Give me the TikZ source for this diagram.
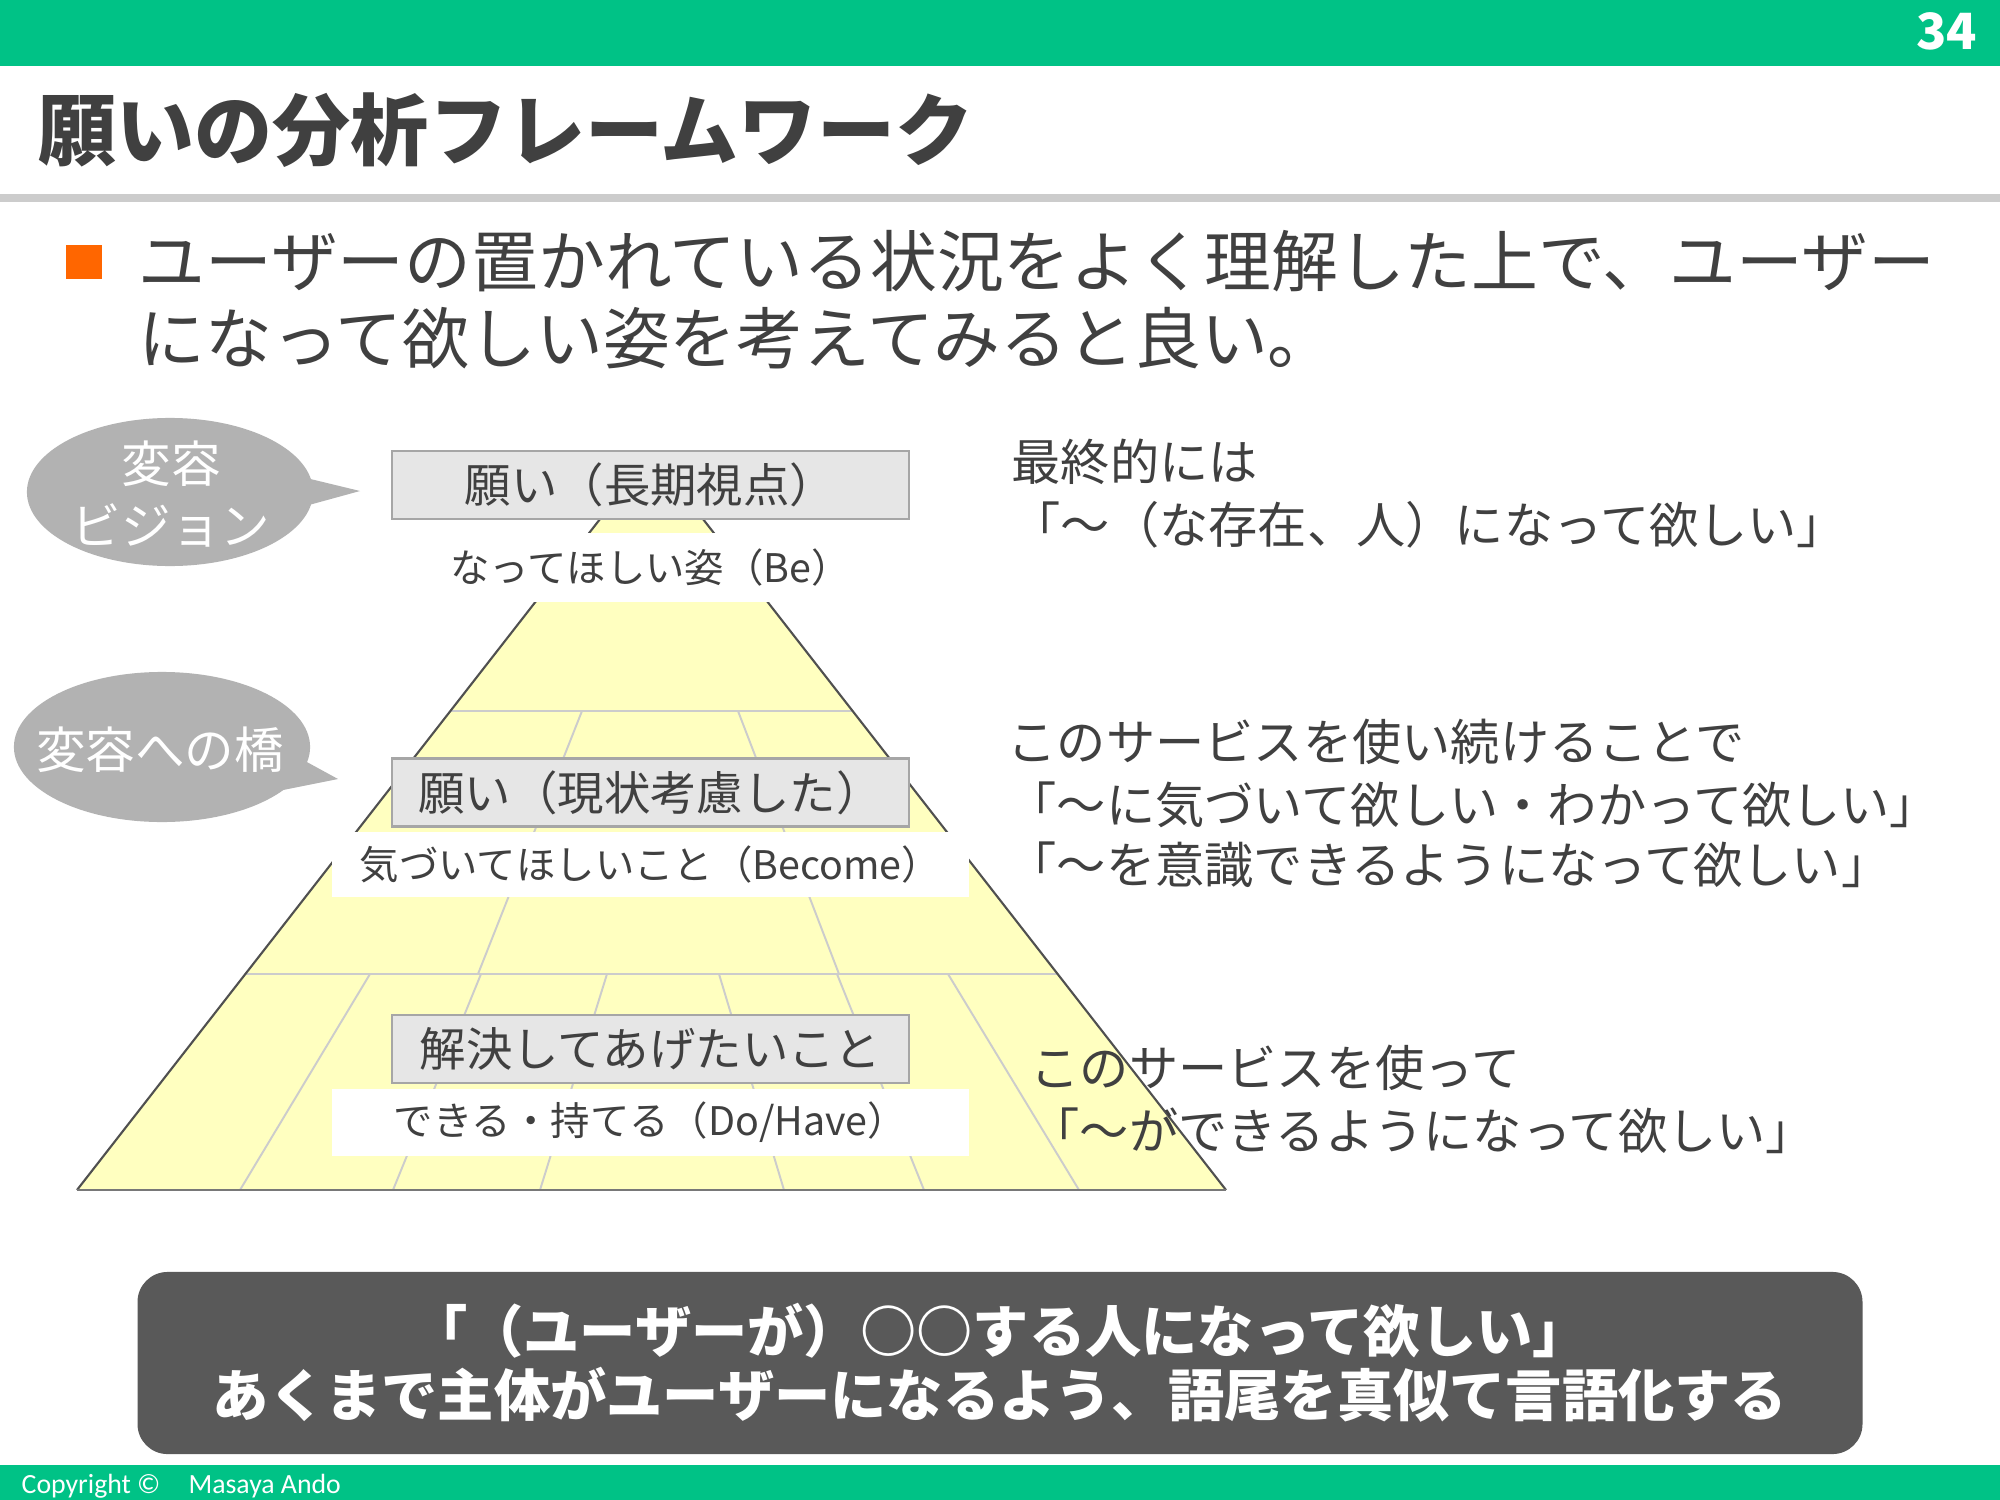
\documentclass[tikz,border=0pt]{standalone}
\usepackage{fontspec}
\setmainfont{Noto Sans CJK JP}
\newfontfamily\copyfont{Carlito}
\definecolor{grn}{RGB}{0,194,134}
\definecolor{txt}{RGB}{64,64,64}
\definecolor{org}{RGB}{255,102,0}
\definecolor{pyr}{RGB}{255,255,192}
\definecolor{boxg}{RGB}{230,230,230}
\definecolor{boxb}{RGB}{166,166,166}
\definecolor{bub}{RGB}{178,178,178}
\definecolor{darkc}{RGB}{89,89,89}
\definecolor{brickc}{RGB}{204,204,204}
\definecolor{edgec}{RGB}{80,80,80}
\definecolor{basec}{RGB}{120,120,120}
\definecolor{rulec}{RGB}{204,204,204}
\tikzset{
  graybox/.style={draw=boxb, line width=0.6pt, fill=boxg, minimum width=5.17cm, minimum height=0.68cm, inner sep=0pt, text=txt, font=\fontsize{13.2}{15}\selectfont},
  whitebar/.style={fill=white, minimum width=6.37cm, inner sep=0pt, text=txt, font=\fontsize{11.2}{13}\selectfont},
  sidetext/.style={anchor=west, inner sep=0pt, text=txt, font=\fontsize{14.0}{16}\selectfont},
  bullettext/.style={anchor=west, inner sep=0pt, text=txt, font=\fontsize{19.0}{22}\selectfont},
  bubtext/.style={inner sep=0pt, text=white, align=center, font=\fontsize{14.1}{17.6}\selectfont},
  brick/.style={draw=brickc, line width=0.55pt},
  pyredge/.style={draw=edgec, line width=0.6pt},
  darkbox/.style={fill=darkc, rounded corners=0.3cm, minimum width=17.24cm, minimum height=1.82cm, inner sep=0pt, text=white, align=center, font=\bfseries\fontsize{16.0}{18.2}\selectfont},
}
\begin{document}
\begin{tikzpicture}[x=0.01cm,y=-0.01cm]
\useasboundingbox (0,0) rectangle (2000,1500);
\fill[white] (0,0) rectangle (2000,1500);
% header
\fill[grn] (0,0) rectangle (2000,66);
\node[anchor=east, inner sep=0pt, text=white, font=\bfseries\fontsize{14.2}{16}\selectfont] (pnum) at (1978,31) {34};
\node[anchor=west, inner sep=0pt, text=txt, font=\bfseries\fontsize{22.2}{24}\selectfont] (title) at (38,130) {願いの分析フレームワーク};
\fill[rulec] (0,194) rectangle (2000,202);
% bullet
\fill[org] (66,245) rectangle (102,279);
\node[bullettext] (l1) at (138,261) {ユーザーの置かれている状況をよく理解した上で、ユーザー};
\node[bullettext] (l2) at (138,338) {になって欲しい姿を考えてみると良い。};
% pyramid
\coordinate (A) at (651.5,453);
\coordinate (BL) at (77,1190);
\coordinate (BR) at (1226,1190);
\fill[pyr] (A) -- (BL) -- (BR) -- cycle;
\draw[brick] (450.4,711) -- (852.6,711);
\draw[brick] (245.4,974) -- (1057.6,974);
\draw[brick] (582,711) -- (478,974);
\draw[brick] (738,711) -- (839,974);
\draw[brick] (370,974) -- (240,1190);
\draw[brick] (481,974) -- (393,1190);
\draw[brick] (607,974) -- (540,1190);
\draw[brick] (719,974) -- (784,1190);
\draw[brick] (837,974) -- (924,1190);
\draw[brick] (948,974) -- (1079,1190);
\draw[pyredge] (BL) -- (A) -- (BR);
\draw[draw=basec, line width=0.8pt] (BL) -- (BR);
% labels on the pyramid
\node[whitebar, minimum height=0.69cm] (w1) at (650.5,567.5) {なってほしい姿（Be）};
\node[whitebar, minimum height=0.65cm] (w2) at (650.5,864.5) {気づいてほしいこと（Become）};
\node[whitebar, minimum height=0.67cm] (w3) at (650.5,1122.5) {できる・持てる（Do/Have）};
\node[graybox] (b1) at (650.5,485) {願い（長期視点）};
\node[graybox] (b2) at (650.5,792.5) {願い（現状考慮した）};
\node[graybox] (b3) at (650.5,1049) {解決してあげたいこと};
% bubbles
\fill[bub] (170,492) ellipse [x radius=1.43cm, y radius=0.74cm];
\fill[bub] (298,476) -- (360,491) -- (298,508) -- cycle;
\node[bubtext] (v1) at (171,494) {変容\\ビジョン};
\fill[bub] (162,747) ellipse [x radius=1.48cm, y radius=0.75cm];
\fill[bub] (294,755) -- (338,779) -- (278,791) -- cycle;
\node[bubtext] (v2) at (160,750) {変容への橋};
% right texts
\node[sidetext] (r1) at (1011,462) {最終的には};
\node[sidetext] (r2) at (1011,525) {「〜（な存在、人）になって欲しい」};
\node[sidetext] (r3) at (1007,742) {このサービスを使い続けることで};
\node[sidetext] (r4) at (1007,805) {「〜に気づいて欲しい・わかって欲しい」};
\node[sidetext] (r5) at (1007,865) {「〜を意識できるようになって欲しい」};
\node[sidetext] (r6) at (1030,1068) {このサービスを使って};
\node[sidetext] (r7) at (1030,1131) {「〜ができるようになって欲しい」};
% note
\node[darkbox] (note) at (1000,1363) {「（ユーザーが）○○する人になって欲しい」\\あくまで主体がユーザーになるよう、語尾を真似て言語化する};
% footer
\fill[grn] (0,1465) rectangle (2000,1500);
\node[anchor=base west, inner sep=0pt, text=white, font=\copyfont\fontsize{7.9}{9}\selectfont] (copy) at (21,1493) {Copyright ©\hspace{8pt}Masaya Ando};
\end{tikzpicture}
\end{document}
